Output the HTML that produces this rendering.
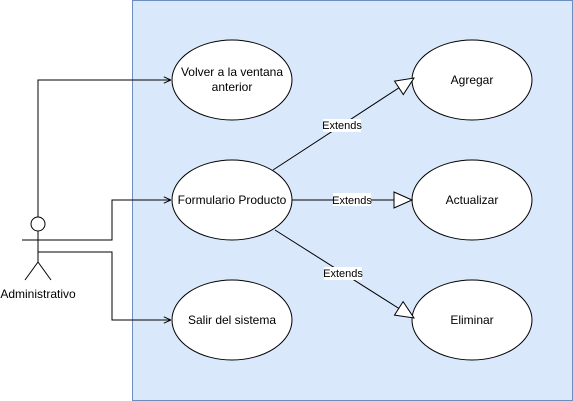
<!DOCTYPE html>
<html><head><style>body{margin:0;background:#fff}svg{display:block}text{font-family:"Liberation Sans",Arial,sans-serif}</style></head><body>
<svg width="573" height="401" xmlns="http://www.w3.org/2000/svg">
<defs>
<marker id="a" viewBox="0 0 10 10" refX="10" refY="5" markerWidth="8" markerHeight="8" orient="auto" markerUnits="userSpaceOnUse"><path d="M1,1 L10,5 L1,9" fill="none" stroke="#000" stroke-width="1.2"/></marker>
<marker id="t" viewBox="0 0 20 20" refX="19" refY="10" markerWidth="20" markerHeight="20" orient="auto" markerUnits="userSpaceOnUse"><path d="M1,2 L19,10 L1,18 Z" fill="#fff" stroke="#000"/></marker>
</defs>
<rect x="132.5" y="0.5" width="440" height="400" fill="#dae8fc" stroke="#6c8ebf"/>
<g fill="#fff" stroke="#000">
<ellipse cx="232" cy="80" rx="60" ry="40"/>
<ellipse cx="232" cy="200" rx="60" ry="40"/>
<ellipse cx="232" cy="320" rx="60" ry="40"/>
<ellipse cx="472" cy="80" rx="60" ry="40"/>
<ellipse cx="472" cy="200" rx="60" ry="40"/>
<ellipse cx="472" cy="320" rx="60" ry="40"/>
</g>
<g font-size="12" text-anchor="middle" fill="#000">
<text x="232" y="76">Volver a la ventana</text><text x="232" y="91">anterior</text>
<text x="232" y="204">Formulario Producto</text>
<text x="232" y="324">Salir del sistema</text>
<text x="472" y="84">Agregar</text>
<text x="472" y="204">Actualizar</text>
<text x="472" y="324">Eliminar</text>
</g>
<g stroke="#000" fill="none">
<circle cx="38" cy="224" r="7" fill="#fff"/>
<path d="M38,231 V262 M22,240 H54 M38,262 L25,280 M38,262 L51,280"/>
<path d="M38,217 V80 H171" marker-end="url(#a)"/>
<path d="M38,240 H112 V200 H171" marker-end="url(#a)"/>
<path d="M38,252 H112 V320 H171" marker-end="url(#a)"/>
<path d="M273,170 L414,78" marker-end="url(#t)"/>
<path d="M292,200 L412,200" marker-end="url(#t)"/>
<path d="M275,230 L414,318" marker-end="url(#t)"/>
</g>
<text x="38" y="298" font-size="12" text-anchor="middle">Administrativo</text>
<g font-size="11" text-anchor="middle">
<rect x="323" y="119" width="38" height="13" fill="#fff"/><text x="342" y="129">Extends</text>
<rect x="333" y="193" width="38" height="13" fill="#fff"/><text x="352" y="204">Extends</text>
<rect x="324" y="267" width="38" height="13" fill="#fff"/><text x="343" y="277">Extends</text>
</g>
</svg>
</body></html>
